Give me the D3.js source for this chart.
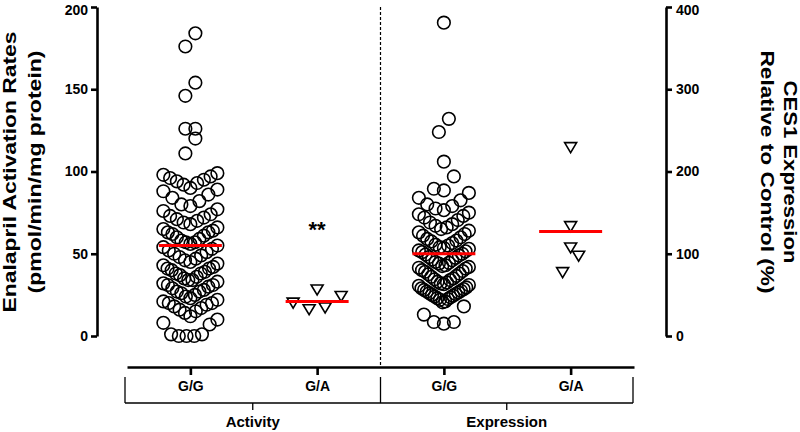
<!doctype html>
<html>
  <head>
    <meta charset="utf-8">
    <title>Enalapril activation and CES1 expression</title>
    <script src="https://cdnjs.cloudflare.com/ajax/libs/d3/7.8.5/d3.min.js"></script>
    <style>
      body { margin: 0; background: #fff; }
      text { font-family: Arial, "Liberation Sans", sans-serif; font-weight: bold; fill: #000; }
    </style>
  </head>
  <body>
    <div id="chart"></div>
    <script>
      // genotype groups along the x axis, two panels of two
      const groupNames = ["G/G", "G/A", "G/G", "G/A"];
      const panelNames = ["Activity", "Expression"];

      // activity, pmol/min/mg protein (left axis)
      const actGG = [184, 176, 154, 146, 126, 126, 120, 111,
        99, 98, 97, 96, 95, 94, 93, 92,
        90, 89, 88, 86, 84, 82, 80, 79,
        77, 76, 74, 73, 72, 71, 70, 69, 68, 66, 65, 64,
        63, 63, 62, 61, 60, 59, 58, 57, 57, 56, 55, 54,
        53, 52, 51, 50, 49, 48, 47, 46, 45, 44, 43, 42,
        41, 41, 40, 39, 38, 38, 37, 36, 35, 34, 34, 33, 32, 31, 31, 30,
        29, 28, 27, 27, 26, 25, 24, 23, 22, 21, 20, 20, 19, 18,
        17, 16, 15, 14, 12, 10,
        8, 7, 1, 1, 0, 0, 0];
      const actGA = [28, 24, 20, 17, 16];

      // CES1 expression, % of control (right axis)
      const expGG = [381, 264, 248, 212, 194,
        179, 177, 174, 168, 165, 160, 158,
        155, 153, 150, 148, 146, 144, 141, 138, 136, 134, 132, 130,
        128, 126, 124, 122, 120, 118, 116, 115, 113, 111, 110, 108,
        107, 106, 104, 103, 102, 100, 99, 98, 96, 95, 93, 92, 90, 89, 88, 86, 85, 84,
        83, 82, 80, 79, 78, 76, 75, 73, 72, 70, 69, 68, 66, 65, 64, 63, 62, 61,
        59, 58, 57, 56, 55, 54, 53, 52, 51, 50, 49, 48, 47, 46, 45, 44, 42, 41,
        36, 26, 17, 17, 15];
      const expGA = [229, 133, 107, 97, 77];

      const groupValues = [actGG, actGA, expGG, expGA];
      const groupMeans = [55, 21, 100, 127];

      const leftTicks = [0, 50, 100, 150, 200];
      const rightTicks = [0, 100, 200, 300, 400];

      const width = 800, height = 432;
      const svg = d3.select("#chart").append("svg")
        .attr("width", width)
        .attr("height", height);

      const yL = d3.scaleLinear().domain([0, 200]).range([336, 7]);
      const yR = d3.scaleLinear().domain([0, 400]).range([336, 7]);
      const x = d3.scalePoint().domain(d3.range(4)).range([127, 634]).padding(0.5);
      const yFor = i => (i < 2 ? yL : yR);

      // prism-like horizontal spreading: rows of close values, lowest value in the middle
      function spread(values, y, rowPx, gap, halfW) {
        const sorted = values.slice().sort((a, b) => a - b);
        const rows = [];
        let cur = null;
        sorted.forEach(v => {
          if (!cur || y(cur[0]) - y(v) > rowPx) { cur = [v]; rows.push(cur); }
          else cur.push(v);
        });
        const pts = [];
        rows.forEach(row => {
          const n = row.length;
          const slots = d3.range(n).map(i => i - (n - 1) / 2)
            .sort((a, b) => Math.abs(a) - Math.abs(b) || a - b);
          const step = n > 1 ? Math.min(gap, 2 * halfW / (n - 1)) : 0;
          row.forEach((v, i) => pts.push({ v: v, dx: slots[i] * step }));
        });
        return pts;
      }

      // axes
      const axL = svg.append("g").attr("transform", "translate(97,0)")
        .call(d3.axisLeft(yL).tickValues(leftTicks).tickSize(6).tickSizeOuter(0).tickPadding(3));
      const axR = svg.append("g").attr("transform", "translate(666,0)")
        .call(d3.axisRight(yR).tickValues(rightTicks).tickSize(6).tickSizeOuter(0).tickPadding(4));
      const axB = svg.append("g").attr("transform", "translate(0,367)")
        .call(d3.axisBottom(x).tickFormat(i => groupNames[i]).tickSize(8).tickSizeOuter(0).tickPadding(6));

      [axL, axR, axB].forEach(a => {
        a.selectAll("path, line").attr("stroke", "#000").attr("stroke-width", 2.6);
        a.selectAll("text").style("font-size", "14px").attr("fill", "#000");
      });
      // top labels sit a little lower so they stay inside the picture
      axL.selectAll(".tick").filter(d => d === 200).select("text").attr("dy", "0.5em");
      axR.selectAll(".tick").filter(d => d === 400).select("text").attr("dy", "0.5em");

      // dashed divider between the panels
      const mid = (x(1) + x(2)) / 2;
      svg.append("line")
        .attr("x1", mid).attr("x2", mid)
        .attr("y1", 7).attr("y2", 367)
        .attr("stroke", "#000").attr("stroke-width", 1.2)
        .attr("stroke-dasharray", "3,2");

      // points
      const tri = "M-6,-5L6,-5L0,5Z";
      groupValues.forEach((vals, i) => {
        const y = yFor(i);
        const isCircle = i % 2 === 0;
        const pts = isCircle ? spread(vals, y, 18, 10, i === 0 ? 27 : 25) : spread(vals, y, 18, 16, 26);
        const g = svg.append("g");
        if (isCircle) {
          g.selectAll("circle").data(pts).join("circle")
            .attr("cx", d => x(i) + d.dx)
            .attr("cy", d => y(d.v))
            .attr("r", 6.3)
            .attr("fill", "none")
            .attr("stroke", "#000")
            .attr("stroke-width", 1.6);
        } else {
          g.selectAll("path").data(pts).join("path")
            .attr("d", tri)
            .attr("transform", d => `translate(${x(i) + d.dx},${y(d.v)})`)
            .attr("fill", "none")
            .attr("stroke", "#000")
            .attr("stroke-width", 1.6);
        }
      });

      // mean lines
      svg.append("g").selectAll("line").data(groupMeans).join("line")
        .attr("x1", (d, i) => x(i) - 31.5)
        .attr("x2", (d, i) => x(i) + 31.5)
        .attr("y1", (d, i) => yFor(i)(d))
        .attr("y2", (d, i) => yFor(i)(d))
        .attr("stroke", "#ff0000")
        .attr("stroke-width", 3);

      // significance mark
      svg.append("text")
        .attr("x", x(1)).attr("y", 237)
        .attr("text-anchor", "middle")
        .style("font-size", "22px")
        .text("**");

      // panel brackets under the axis
      const left = x(0) - x.step() / 2 - 2, right = x(3) + x.step() / 2 - 1;
      const br = svg.append("g").attr("stroke", "#000").attr("stroke-width", 1.3);
      [left, mid, right].forEach(px => {
        br.append("line").attr("x1", px).attr("x2", px).attr("y1", 377).attr("y2", 403);
      });
      br.append("line").attr("x1", left).attr("x2", right).attr("y1", 403).attr("y2", 403);
      const panelCenters = [(left + mid) / 2, (mid + right) / 2];
      panelNames.forEach((p, i) => {
        br.append("line").attr("x1", panelCenters[i]).attr("x2", panelCenters[i])
          .attr("y1", 403).attr("y2", 410);
        svg.append("text")
          .attr("x", panelCenters[i]).attr("y", 427)
          .attr("text-anchor", "middle")
          .style("font-size", "15px")
          .text(p);
      });

      // axis titles
      const lt = svg.append("text")
        .attr("transform", "translate(16,172) rotate(-90)")
        .attr("text-anchor", "middle")
        .style("font-size", "18px");
      lt.append("tspan").attr("x", 0).attr("y", 0)
        .attr("textLength", 281).attr("lengthAdjust", "spacingAndGlyphs")
        .text("Enalapril Activation Rates");
      lt.append("tspan").attr("x", 0).attr("y", 25)
        .attr("textLength", 243).attr("lengthAdjust", "spacingAndGlyphs")
        .text("(pmol/min/mg protein)");

      const rt = svg.append("text")
        .attr("transform", "translate(784,172) rotate(90)")
        .attr("text-anchor", "middle")
        .style("font-size", "18px");
      rt.append("tspan").attr("x", 0).attr("y", 0)
        .attr("textLength", 183).attr("lengthAdjust", "spacingAndGlyphs")
        .text("CES1 Expression");
      rt.append("tspan").attr("x", 0).attr("y", 23)
        .attr("textLength", 243).attr("lengthAdjust", "spacingAndGlyphs")
        .text("Relative to Control (%)");
    </script>
  </body>
</html>
